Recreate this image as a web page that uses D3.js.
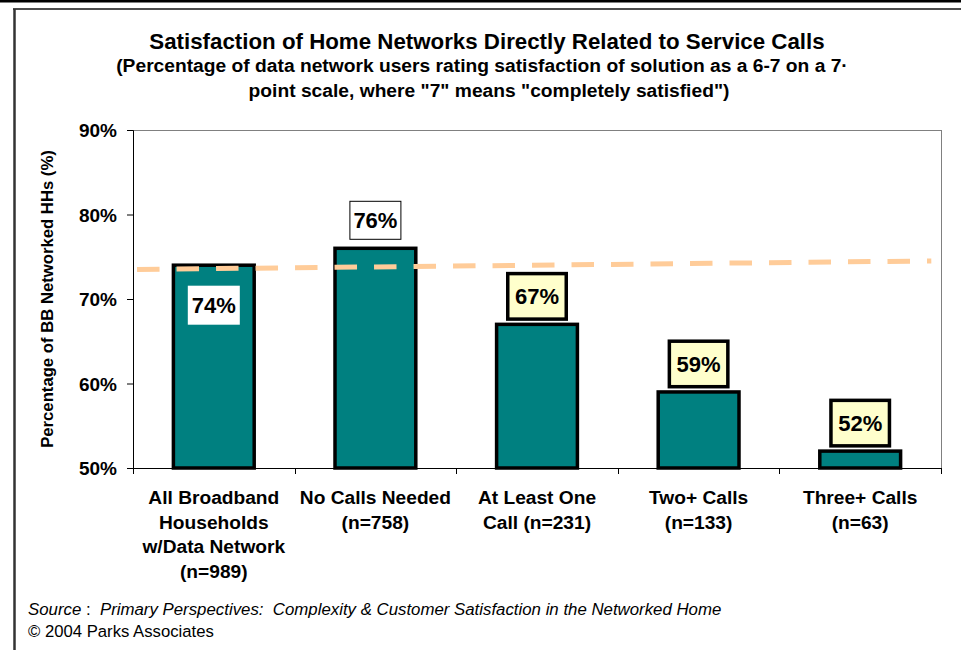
<!DOCTYPE html>
<html>
<head>
<meta charset="utf-8">
<script src="https://cdn.jsdelivr.net/npm/d3@7"></script>
<style>
  html, body { margin: 0; padding: 0; background: #fff; }
  svg { display: block; font-family: "Liberation Sans", Arial, sans-serif; }
</style>
</head>
<body>
<svg id="chart" width="961" height="650"></svg>
<script>
// ---- data ----
const categories = ["All Broadband Households w/Data Network (n=989)", "No Calls Needed (n=758)", "At Least One Call (n=231)", "Two+ Calls (n=133)", "Three+ Calls (n=63)"];
const categoryLines = [
  ["All Broadband", "Households", "w/Data Network", "(n=989)"],
  ["No Calls Needed", "(n=758)"],
  ["At Least One", "Call (n=231)"],
  ["Two+ Calls", "(n=133)"],
  ["Three+ Calls", "(n=63)"]
];
const values = [74, 76, 67, 59, 52];
const yTicks = [50, 60, 70, 80, 90];
const trendX = [0.025, 4.94];      // in category-index units
const trendY = [73.5, 74.5];       // percent
const titleText = "Satisfaction of Home Networks Directly Related to Service Calls";
const subtitleLines = ["(Percentage of data network users rating satisfaction of solution as a 6-7 on a 7\u00b7", "point scale, where \"7\" means \"completely satisfied\")"];
const yAxisTitle = "Percentage of BB Networked HHs (%)";

// ---- layout ----
const svg = d3.select("#chart");
const plot = { left: 133, right: 941, top: 130, bottom: 468 };

function fit(sel, target, base) {
  sel.attr("font-size", base);
  const w = sel.node().getComputedTextLength();
  const fs = base * target / w;
  sel.attr("font-size", fs);
  return fs;
}

// frame
svg.append("rect").attr("x", 0).attr("y", 0).attr("width", 961).attr("height", 2.5).attr("fill", "#000");
svg.append("line").attr("x1", 13).attr("x2", 961).attr("y1", 9).attr("y2", 9).attr("stroke", "#111").attr("stroke-width", 1.3);
svg.append("line").attr("x1", 14.5).attr("x2", 14.5).attr("y1", 9).attr("y2", 650).attr("stroke", "#333").attr("stroke-width", 2.5);

// title
const t = svg.append("text").attr("x", 487).attr("y", 49).attr("text-anchor", "middle")
  .attr("font-weight", "bold").attr("fill", "#000").text(titleText);
fit(t, 676, 20);
const s1 = svg.append("text").attr("x", 482).attr("y", 72).attr("text-anchor", "middle")
  .attr("font-weight", "bold").attr("fill", "#000").text(subtitleLines[0]);
const sfs = fit(s1, 732, 16);
svg.append("text").attr("x", 489).attr("y", 97).attr("text-anchor", "middle")
  .attr("font-weight", "bold").attr("fill", "#000").attr("font-size", sfs).text(subtitleLines[1]);

// scales
const x = d3.scaleBand().domain(categories).range([plot.left, plot.right]).paddingInner(0.5).paddingOuter(0.25);
const xi = d3.scaleLinear().domain([0, categories.length]).range([plot.left, plot.right]);
const y = d3.scaleLinear().domain([50, 90]).range([plot.bottom, plot.top]);

// plot frame (gray top/right)
svg.append("line").attr("x1", plot.left).attr("x2", plot.right).attr("y1", plot.top + 0.5).attr("y2", plot.top + 0.5).attr("stroke", "#808080").attr("stroke-width", 1);
svg.append("line").attr("x1", plot.right + 0.5).attr("x2", plot.right + 0.5).attr("y1", plot.top).attr("y2", plot.bottom).attr("stroke", "#808080").attr("stroke-width", 1);

// y axis
const yAxis = svg.append("g").attr("transform", `translate(${plot.left},0)`)
  .call(d3.axisLeft(y).tickValues(yTicks).tickFormat(d => d + "%").tickSize(6).tickPadding(10));
yAxis.select(".domain").attr("stroke", "#000");
yAxis.selectAll(".tick line").attr("stroke", "#000");
yAxis.selectAll(".tick text").attr("font-size", 19).attr("font-weight", "bold").attr("fill", "#000")
  .attr("font-family", "'Liberation Sans', Arial, sans-serif").attr("dy", "0.35em");

// x axis line + ticks at band boundaries
svg.append("line").attr("x1", plot.left).attr("x2", plot.right + 1).attr("y1", plot.bottom + 0.5).attr("y2", plot.bottom + 0.5).attr("stroke", "#000");
svg.selectAll(".xtick").data(d3.range(categories.length + 1)).enter().append("line")
  .attr("x1", d => Math.round(xi(d)) + 0.5).attr("x2", d => Math.round(xi(d)) + 0.5)
  .attr("y1", plot.bottom).attr("y2", plot.bottom + 6).attr("stroke", "#000");

// y axis title
const yt = svg.append("text").attr("transform", "translate(53,299) rotate(-90)").attr("text-anchor", "middle")
  .attr("font-weight", "bold").attr("fill", "#000").text(yAxisTitle);
fit(yt, 298, 15);

// bars
svg.selectAll(".bar").data(values).enter().append("rect")
  .attr("x", (d, i) => x(categories[i]))
  .attr("width", x.bandwidth())
  .attr("y", d => y(d))
  .attr("height", d => y(50) - y(d))
  .attr("fill", "#008080").attr("stroke", "#000").attr("stroke-width", 3.5);

// trend line
svg.append("line")
  .attr("x1", xi(trendX[0])).attr("y1", y(trendY[0]))
  .attr("x2", xi(trendX[1])).attr("y2", y(trendY[1]))
  .attr("stroke", "#FFCC99").attr("stroke-width", 5).attr("stroke-dasharray", "22.5,17");

// data labels
values.forEach((v, i) => {
  const cx = x(categories[i]) + x.bandwidth() / 2;
  const g = svg.append("g");
  let cy, w, h, fill, stroke, sw;
  if (i === 0) { cy = y(v) + 40; w = 52; h = 39; fill = "#fff"; stroke = "none"; sw = 0; }
  else if (i === 1) { cy = y(v) - 28; w = 51; h = 38; fill = "#fff"; stroke = "#000"; sw = 1; }
  else { cy = y(v) - 28; w = 58.5; h = 45.5; fill = "#FFFFCC"; stroke = "#000"; sw = 3.5; }
  g.append("rect").attr("x", cx - w / 2).attr("y", cy - h / 2).attr("width", w).attr("height", h)
    .attr("fill", fill).attr("stroke", stroke).attr("stroke-width", sw);
  g.append("text").attr("x", cx).attr("y", cy).attr("dy", "0.36em").attr("text-anchor", "middle")
    .attr("font-size", 22).attr("font-weight", "bold").attr("fill", "#000").text(v + "%");
});

// category labels
let cfs = null;
categoryLines.forEach((lines, i) => {
  const cx = x(categories[i]) + x.bandwidth() / 2;
  lines.forEach((ln, j) => {
    const tx = svg.append("text").attr("x", cx).attr("y", 504 + j * 24.5).attr("text-anchor", "middle")
      .attr("font-weight", "bold").attr("fill", "#000").text(ln);
    if (cfs === null) cfs = fit(tx, 131, 18); else tx.attr("font-size", cfs);
  });
});

// source
const src = svg.append("text").attr("x", 28).attr("y", 615).attr("fill", "#000");
src.append("tspan").attr("font-style", "italic").text("Source");
src.append("tspan").text(" :  ");
src.append("tspan").attr("font-style", "italic").text("Primary Perspectives:  Complexity & Customer Satisfaction in the Networked Home");
src.attr("xml:space", "preserve").style("white-space", "pre");
fit(src, 694, 15);
const cp = svg.append("text").attr("x", 28).attr("y", 637).attr("fill", "#000").text("\u00a9 2004 Parks Associates");
fit(cp, 186, 15);
</script>
</body>
</html>
